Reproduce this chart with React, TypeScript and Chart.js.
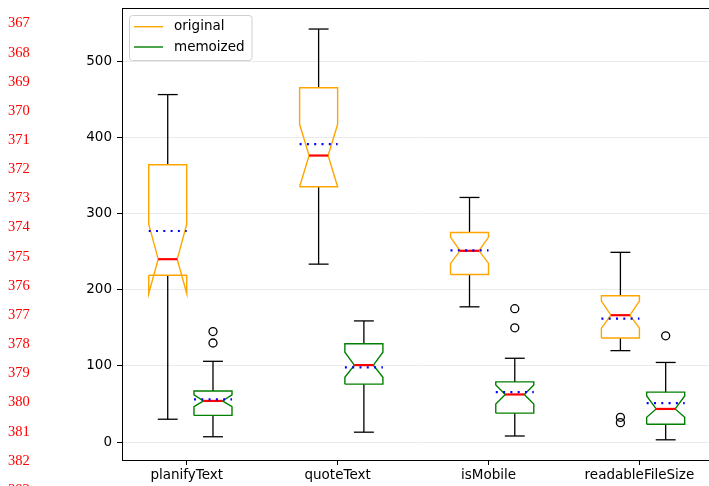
import React, { useEffect, useRef } from 'react';
import { Chart, registerables } from 'chart.js';

Chart.register(...registerables);

// ---------- data ----------
const categories = ['planifyText', 'quoteText', 'isMobile', 'readableFileSize'];
const seriesNames = ['original', 'memoized'];
const seriesColors = ['#ffa500', '#008000'];
const yTicks = [0, 100, 200, 300, 400, 500];
const lineNumbers = [367, 368, 369, 370, 371, 372, 373, 374, 375, 376, 377, 378, 379, 380, 381, 382, 383];

// original
const origLower = [30, 233.5, 177.5, 120];
const origQ1 = [219, 335, 220, 136.5];
const origNotchLo = [195, 335, 234.5, 149.5];
const origMedian = [240, 376, 251, 166.5];
const origNotchHi = [286, 417, 269, 185];
const origQ3 = [364, 465, 275, 192];
const origUpper = [456, 542, 321, 249];
const origMean = [277, 391, 251.5, 162];
const origOutliers = [[], [], [], [32.5, 25.5]];

// memoized
const memoLower = [7, 13, 8, 3];
const memoQ1 = [35, 76, 38, 23.5];
const memoNotchLo = [46.5, 85, 50, 32.5];
const memoMedian = [54, 101, 62.5, 43.5];
const memoNotchHi = [62, 118, 75, 60.5];
const memoQ3 = [67, 129, 79, 65.5];
const memoUpper = [106, 159, 110, 104.5];
const memoMean = [56, 98, 65.5, 51];
const memoOutliers = [[145, 130], [], [175, 150], [139.5]];

const series = [
  { lower: origLower, q1: origQ1, nlo: origNotchLo, med: origMedian, nhi: origNotchHi, q3: origQ3, upper: origUpper, mean: origMean, out: origOutliers },
  { lower: memoLower, q1: memoQ1, nlo: memoNotchLo, med: memoMedian, nhi: memoNotchHi, q3: memoQ3, upper: memoUpper, mean: memoMean, out: memoOutliers },
];

// ---------- layout ----------
const xOffsets = [-0.126, 0.174];
const boxWidth = 0.252;
const capWidth = 0.132;

function buildDatasets() {
  const ds: any[] = [];
  const seg = (pts: any[], color: string, width: number, order: number, extra: any = {}) => {
    ds.push({
      data: pts,
      showLine: true,
      borderColor: color,
      borderWidth: width,
      pointRadius: 0,
      fill: false,
      tension: 0,
      order,
      borderJoinStyle: 'miter',
      ...extra,
    });
  };
  series.forEach((s, si) => {
    categories.forEach((_, i) => {
      const x = i + xOffsets[si];
      const L = x - boxWidth / 2;
      const R = x + boxWidth / 2;
      const nl = x - boxWidth / 4;
      const nr = x + boxWidth / 4;
      // whiskers & caps
      seg([{ x, y: s.q3[i] }, { x, y: s.upper[i] }], '#000', 1.3, 4);
      seg([{ x, y: s.q1[i] }, { x, y: s.lower[i] }], '#000', 1.3, 4);
      seg([{ x: x - capWidth / 2, y: s.upper[i] }, { x: x + capWidth / 2, y: s.upper[i] }], '#000', 1.3, 4);
      seg([{ x: x - capWidth / 2, y: s.lower[i] }, { x: x + capWidth / 2, y: s.lower[i] }], '#000', 1.3, 4);
      // notched box
      seg(
        [
          { x: L, y: s.q1[i] },
          { x: R, y: s.q1[i] },
          { x: R, y: s.nlo[i] },
          { x: nr, y: s.med[i] },
          { x: R, y: s.nhi[i] },
          { x: R, y: s.q3[i] },
          { x: L, y: s.q3[i] },
          { x: L, y: s.nhi[i] },
          { x: nl, y: s.med[i] },
          { x: L, y: s.nlo[i] },
          { x: L, y: s.q1[i] },
        ],
        seriesColors[si],
        1.4,
        3
      );
      // median
      seg([{ x: nl, y: s.med[i] }, { x: nr, y: s.med[i] }], '#ff0000', 2.2, 2);
      // mean
      seg([{ x: L, y: s.mean[i] }, { x: R, y: s.mean[i] }], '#0000ff', 2.2, 1, { borderDash: [2, 5.3], borderCapStyle: 'butt' });
      // outliers
      if (s.out[i].length) {
        ds.push({
          data: s.out[i].map((v: number) => ({ x, y: v })),
          showLine: false,
          pointRadius: 4,
          pointStyle: 'circle',
          pointBorderColor: '#000',
          pointBackgroundColor: 'rgba(0,0,0,0)',
          pointBorderWidth: 1.3,
          order: 0,
        });
      }
    });
  });
  return ds;
}

const framePlugin = {
  id: 'frameLegend',
  afterDraw(chart: any) {
    const { ctx, chartArea } = chart;
    ctx.save();
    ctx.strokeStyle = '#000';
    ctx.lineWidth = 1;
    ctx.strokeRect(chartArea.left + 0.5, chartArea.top + 0.5, chartArea.right - chartArea.left, chartArea.bottom - chartArea.top);
    // legend
    const lx = 129.5, ly = 15.5, lw = 122.5, lh = 45, r = 3;
    ctx.beginPath();
    ctx.moveTo(lx + r, ly);
    ctx.lineTo(lx + lw - r, ly);
    ctx.quadraticCurveTo(lx + lw, ly, lx + lw, ly + r);
    ctx.lineTo(lx + lw, ly + lh - r);
    ctx.quadraticCurveTo(lx + lw, ly + lh, lx + lw - r, ly + lh);
    ctx.lineTo(lx + r, ly + lh);
    ctx.quadraticCurveTo(lx, ly + lh, lx, ly + lh - r);
    ctx.lineTo(lx, ly + r);
    ctx.quadraticCurveTo(lx, ly, lx + r, ly);
    ctx.closePath();
    ctx.fillStyle = 'rgba(255,255,255,0.8)';
    ctx.fill();
    ctx.strokeStyle = '#d0d0d0';
    ctx.stroke();
    seriesNames.forEach((name, k) => {
      const y = 26.7 + k * 20.3;
      ctx.strokeStyle = seriesColors[k];
      ctx.lineWidth = 1.4;
      ctx.beginPath();
      ctx.moveTo(134, y);
      ctx.lineTo(163, y);
      ctx.stroke();
      ctx.fillStyle = '#000';
      ctx.font = '13.5px "DejaVu Sans"';
      ctx.textBaseline = 'middle';
      ctx.textAlign = 'left';
      ctx.fillText(name, 174, y);
    });
    ctx.restore();
  },
};

export default function App() {
  const ref = useRef<HTMLCanvasElement | null>(null);
  useEffect(() => {
    if (!ref.current) return;
    const chart = new Chart(ref.current, {
      type: 'scatter',
      data: { datasets: buildDatasets() },
      options: {
        animation: false,
        responsive: false,
        devicePixelRatio: 1,
        events: [],
        layout: { padding: { left: 0, top: 8, right: 10, bottom: 0 } },
        plugins: { legend: { display: false }, tooltip: { enabled: false } },
        font: { family: 'DejaVu Sans', size: 13.5 },
        scales: {
          x: {
            type: 'linear',
            min: -0.429,
            max: 3.534,
            afterBuildTicks: (scale: any) => {
              scale.ticks = categories.map((_, i) => ({ value: i }));
            },
            afterFit: (scale: any) => {
              scale.height = 26;
              scale.paddingLeft = 0;
              scale.paddingRight = 0;
            },
            ticks: {
              color: '#000',
              padding: 2,
              maxRotation: 0,
              autoSkip: false,
              font: { family: 'DejaVu Sans', size: 13.5 },
              callback: (v: any) => categories[Math.round(Number(v))] ?? '',
            },
            grid: { drawOnChartArea: false, tickLength: 5, tickColor: '#000', tickWidth: 1 },
            border: { color: '#000', width: 1 },
          },
          y: {
            type: 'linear',
            min: -23.5,
            max: 569.6,
            afterBuildTicks: (scale: any) => {
              scale.ticks = yTicks.map((v) => ({ value: v }));
            },
            afterFit: (scale: any) => {
              scale.width = 122;
              scale.paddingTop = 0;
              scale.paddingBottom = 0;
            },
            ticks: {
              color: '#000',
              padding: 5,
              font: { family: 'DejaVu Sans', size: 13.5 },
              callback: (v: any) => String(v),
            },
            grid: { color: '#ebebeb', lineWidth: 1, tickLength: 5, tickColor: '#000', tickWidth: 1 },
            border: { color: '#000', width: 1 },
          },
        },
      } as any,
      plugins: [framePlugin],
    });
    return () => chart.destroy();
  }, []);

  return (
    <div style={{ position: 'fixed', left: 0, top: 0, width: 709, height: 486, overflow: 'hidden', background: '#fff' }}>
      <canvas ref={ref} width={730} height={486} style={{ position: 'absolute', left: 0, top: 0, width: 730, height: 486 }} />
      {lineNumbers.map((n, k) => (
        <div
          key={n}
          style={{
            position: 'absolute',
            left: 8,
            top: 22.7 + k * 29.15 - 7.3,
            fontFamily: '"Liberation Serif", serif',
            fontSize: 14.5,
            lineHeight: '14.5px',
            color: '#ff0000',
            whiteSpace: 'nowrap',
          }}
        >
          {n}
        </div>
      ))}
    </div>
  );
}
